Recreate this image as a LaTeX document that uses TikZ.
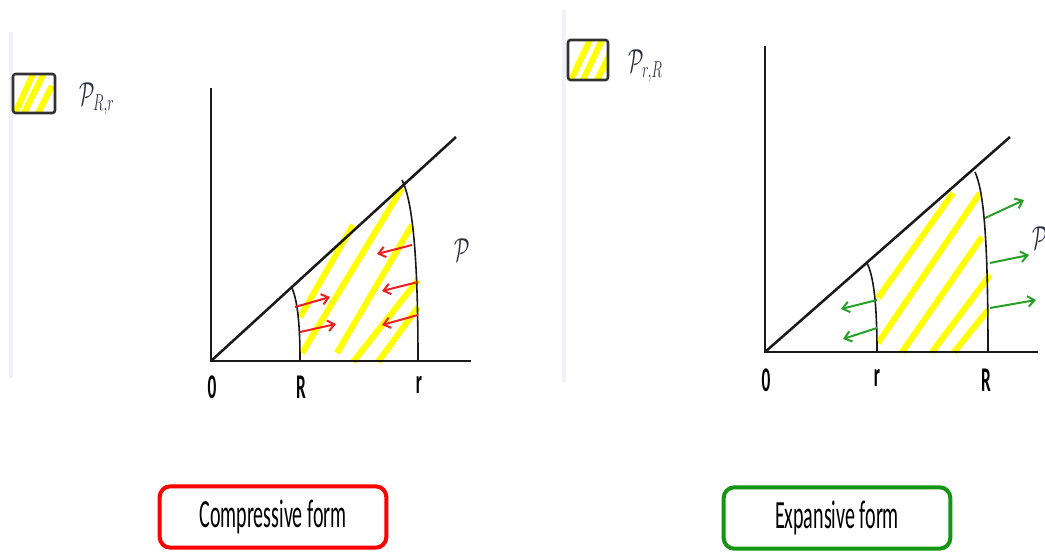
\documentclass[tikz,border=0pt]{standalone}
\usepackage{fontspec}
\usepackage{graphicx}
\setsansfont{Carlito}
\usetikzlibrary{arrows.meta}
\newcommand{\narrow}[2][0.6]{\scalebox{#1}[1]{#2}}
\definecolor{stripeyellow}{RGB}{255,255,0}
\definecolor{pushred}{RGB}{240,30,30}
\definecolor{pullgreen}{RGB}{40,160,40}
\definecolor{boxgreen}{RGB}{20,150,20}
\definecolor{panelblue}{RGB}{236,241,251}
\definecolor{labelink}{RGB}{45,45,65}

\begin{document}
\begin{tikzpicture}[x=0.75pt,y=0.75pt,yscale=-1,xscale=1,
  axis/.style={line width=1.9pt,color={rgb, 255:red, 25; green, 25; blue, 25}},
  bound/.style={line width=1.2pt,color={rgb, 255:red, 25; green, 25; blue, 25}},
  band/.style={line width=4.6pt,color=stripeyellow},
  push/.style={line width=1.5pt,-{Straight Barb[length=5pt,width=8pt]}},
  axlabel/.style={inner sep=0.75pt,font=\sffamily\bfseries\fontsize{26}{26}\selectfont},
  formbox/.style={rounded corners=8pt,line width=3pt,minimum width=170pt,minimum height=46pt,font=\sffamily\fontsize{30}{30}\selectfont},
]
\useasboundingbox (0,0) rectangle (1045,552);

%Panel edges
\draw [line width=3.5pt,color=panelblue] (11,32) -- (11,378) ;
\draw [line width=3.5pt,color=panelblue] (564,10) -- (564,382) ;

%%%%%%%%%%%%%%%% compressive panel
%Stripes
\draw [band] (300,317) -- (353,225) ;
\draw [band] (302,353) -- (402,188) ;
\draw [band] (337,353) -- (412,225) ;
\draw [band] (353,362) -- (418,280) ;
\draw [band] (378,362) -- (418,307) ;
%Axes
\draw [axis] (211,88) -- (211,361) -- (471,361) ;
\draw [axis] (211,361) -- (456,137) ;
%Arcs R and r
\draw [bound] (292,288) .. controls (297,300) and (300,320) .. (300,361) ;
\draw [bound] (402,180) .. controls (412,200) and (418,250) .. (418,361) ;
%Arrows
\draw [push,pushred] (295,307) -- (330,297) ;
\draw [push,pushred] (300,332) -- (336,324) ;
\draw [push,pushred] (412,245) -- (377,254) ;
\draw [push,pushred] (418,282) -- (382,291) ;
\draw [push,pushred] (418,315) -- (382,325) ;

% Text Node
\node [axlabel,anchor=base] (zeroC) at (212,398) {\narrow[0.5]{0}};
\node [axlabel,anchor=base] (bigRC) at (301,398) {\narrow[0.5]{R}};
\node [axlabel,anchor=base] (smallrC) at (419,393) {\narrow[0.5]{r}};
\node [inner sep=0.75pt,color=labelink,font=\fontsize{25}{25}\selectfont] (familyC) at (462,250) {\narrow{$\mathcal{P}$}};

%Legend
\begin{scope}
\clip [rounded corners=2pt] (13,74) rectangle (55,113) ;
\draw [band] (15,113) -- (34,72) ;
\draw [band] (23,115) -- (44,73) ;
\draw [band] (37,115) -- (52,86) ;
\end{scope}
\draw [line width=1.9pt,rounded corners=2pt,color={rgb, 255:red, 50; green, 50; blue, 50}] (13,74) rectangle (55,113) ;
\node [inner sep=0.75pt,color=labelink,font=\fontsize{23}{23}\selectfont,anchor=west] (legendC) at (78,99) {\narrow{$\mathcal{P}_{R,r}$}};

%Form box
\node [formbox,draw=red] (compBox) at (273,517) {\narrow[0.5]{Compressive form}};

%%%%%%%%%%%%%%%% expansive panel
%Stripes
\draw [band] (878,298) -- (953,193) ;
\draw [band] (878,343) -- (980,193) ;
\draw [band] (902,352) -- (982,237) ;
\draw [band] (932,352) -- (990,275) ;
\draw [band] (954,352) -- (988,310) ;
%Axes
\draw [axis] (765,46) -- (765,352) -- (1038,352) ;
\draw [axis] (765,352) -- (1010,137) ;
%Arcs r and R
\draw [bound] (867,263) .. controls (873,275) and (877,300) .. (877,352) ;
\draw [bound] (975,172) .. controls (983,190) and (988,230) .. (988,352) ;
%Arrows
\draw [push,pullgreen] (877,300) -- (841,309) ;
\draw [push,pullgreen] (877,328) -- (843,339) ;
\draw [push,pullgreen] (985,218) -- (1024,200) ;
\draw [push,pullgreen] (990,263) -- (1029,255) ;
\draw [push,pullgreen] (990,308) -- (1036,300) ;

% Text Node
\node [axlabel,anchor=base] (zeroE) at (766,391) {\narrow[0.5]{0}};
\node [axlabel,anchor=base] (smallrE) at (877,386) {\narrow[0.5]{r}};
\node [axlabel,anchor=base] (bigRE) at (986,391) {\narrow[0.5]{R}};
\node [inner sep=0.75pt,color=labelink,font=\fontsize{25}{25}\selectfont,anchor=west] (familyE) at (1031,238) {\narrow{$\mathcal{P}$}};

%Legend
\begin{scope}
\clip [rounded corners=2pt] (568,40) rectangle (608,80) ;
\draw [band] (570,82) -- (590,40) ;
\draw [band] (582,82) -- (602,40) ;
\draw [band] (596,82) -- (612,50) ;
\end{scope}
\draw [line width=1.9pt,rounded corners=2pt,color={rgb, 255:red, 50; green, 50; blue, 50}] (568,40) rectangle (608,80) ;
\node [inner sep=0.75pt,color=labelink,font=\fontsize{23}{23}\selectfont,anchor=west] (legendE) at (627,66) {\narrow{$\mathcal{P}_{r,R}$}};

%Form box
\node [formbox,draw=boxgreen] (expBox) at (837,518) {\narrow[0.5]{Expansive form}};
\end{tikzpicture}
\end{document}
